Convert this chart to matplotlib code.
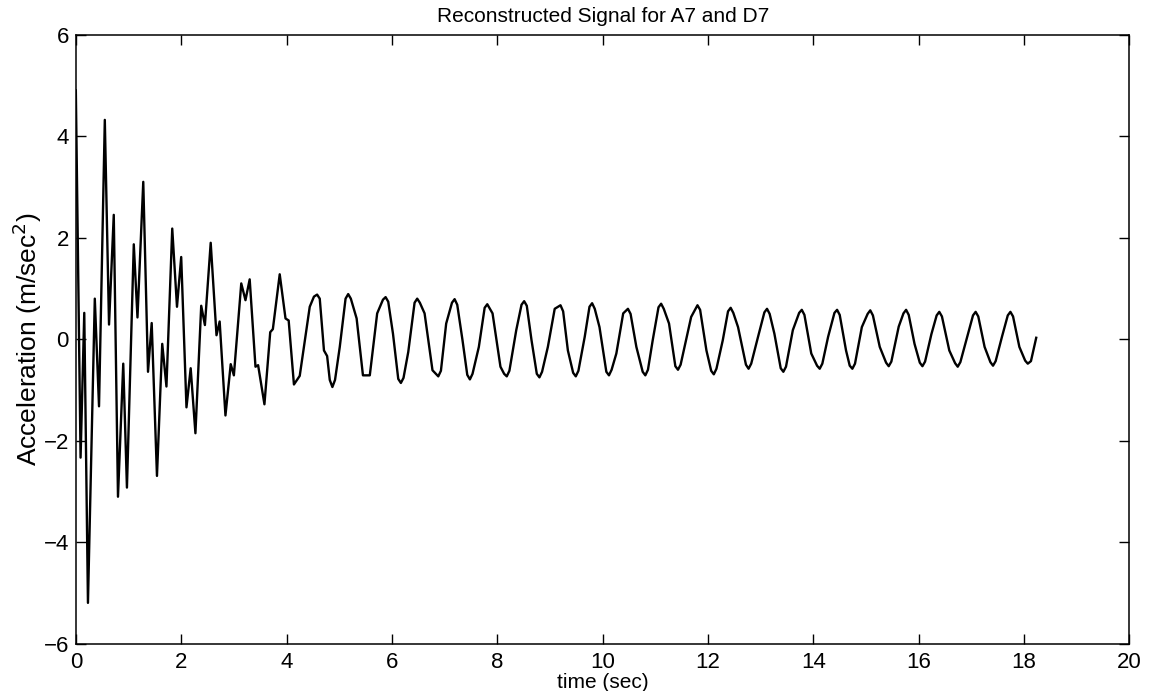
import matplotlib
matplotlib.use('Agg')
import matplotlib.pyplot as plt

# значения (время, ускорение)
# начало записи: быстрые затухающие колебания
early_time = [0.00, 0.09, 0.16, 0.23, 0.36, 0.44, 0.55, 0.63, 0.72, 0.80,
              0.90, 0.97, 1.10, 1.17, 1.28, 1.37, 1.44, 1.54, 1.64, 1.72,
              1.83, 1.92, 2.00, 2.10, 2.18, 2.27, 2.38, 2.45, 2.56, 2.67,
              2.73, 2.84, 2.94, 3.00, 3.14, 3.22, 3.30, 3.41, 3.46, 3.58,
              3.69, 3.74, 3.87, 3.98, 4.04, 4.14, 4.25]
early_accel = [4.90, -2.33, 0.52, -5.19, 0.80, -1.32, 4.32, 0.29, 2.45, -3.10,
               -0.48, -2.92, 1.87, 0.43, 3.10, -0.64, 0.32, -2.69, -0.09, -0.93,
               2.18, 0.64, 1.62, -1.34, -0.57, -1.85, 0.66, 0.28, 1.90, 0.08,
               0.35, -1.50, -0.49, -0.71, 1.10, 0.77, 1.18, -0.54, -0.51, -1.28,
               0.14, 0.20, 1.28, 0.41, 0.37, -0.89, -0.72]

# 4.4 - 11.5 с
mid_time = [4.44, 4.52, 4.58, 4.63, 4.71, 4.77, 4.82, 4.87, 4.92, 5.01,
            5.12, 5.17, 5.22, 5.33, 5.45, 5.58, 5.72, 5.83, 5.88, 5.93,
            6.02, 6.12, 6.17, 6.22, 6.31, 6.43, 6.48, 6.53, 6.62, 6.77,
            6.88, 6.93, 7.03, 7.14, 7.19, 7.24, 7.34, 7.43, 7.48, 7.53,
            7.65, 7.76, 7.81, 7.91, 8.06, 8.13, 8.18, 8.23, 8.36, 8.46,
            8.51, 8.56, 8.65, 8.75, 8.80, 8.85, 8.96, 9.09, 9.20, 9.25,
            9.34, 9.44, 9.49, 9.54, 9.66, 9.75, 9.80, 9.85, 9.94, 10.07,
            10.12, 10.17, 10.26, 10.39, 10.48, 10.53, 10.64, 10.76, 10.81, 10.86,
            10.95, 11.06, 11.11, 11.16, 11.26, 11.38, 11.43, 11.48]
mid_accel = [0.64, 0.84, 0.88, 0.80, -0.22, -0.33, -0.80, -0.94, -0.80, -0.15,
             0.80, 0.89, 0.80, 0.41, -0.71, -0.71, 0.51, 0.78, 0.83, 0.74,
             0.11, -0.78, -0.86, -0.76, -0.25, 0.72, 0.80, 0.72, 0.51, -0.61,
             -0.73, -0.62, 0.31, 0.72, 0.79, 0.68, -0.02, -0.70, -0.79, -0.68,
             -0.15, 0.62, 0.69, 0.51, -0.54, -0.68, -0.73, -0.62, 0.18, 0.68,
             0.75, 0.66, -0.02, -0.68, -0.75, -0.64, -0.15, 0.60, 0.67, 0.55,
             -0.22, -0.66, -0.73, -0.62, 0.05, 0.64, 0.71, 0.60, 0.24, -0.64,
             -0.71, -0.60, -0.28, 0.51, 0.60, 0.50, -0.15, -0.64, -0.71, -0.60,
             -0.02, 0.63, 0.70, 0.60, 0.31, -0.53, -0.60, -0.50]

# 11.5 с - конец записи
late_time = [11.68, 11.80, 11.85, 11.97, 12.06, 12.11, 12.16, 12.28, 12.38, 12.43,
             12.48, 12.57, 12.72, 12.77, 12.82, 12.95, 13.07, 13.12, 13.17, 13.26,
             13.38, 13.43, 13.48, 13.61, 13.73, 13.78, 13.83, 13.96, 14.07, 14.12,
             14.17, 14.28, 14.40, 14.45, 14.50, 14.62, 14.69, 14.74, 14.79, 14.92,
             15.03, 15.08, 15.13, 15.26, 15.38, 15.43, 15.48, 15.62, 15.71, 15.76,
             15.81, 15.92, 16.02, 16.07, 16.12, 16.24, 16.34, 16.39, 16.44, 16.58,
             16.69, 16.74, 16.79, 16.92, 17.03, 17.08, 17.13, 17.25, 17.36, 17.41,
             17.46, 17.58, 17.69, 17.74, 17.79, 17.91, 18.02, 18.07, 18.13, 18.23]
late_accel = [0.44, 0.67, 0.58, -0.22, -0.62, -0.69, -0.58, -0.02, 0.55, 0.62,
              0.52, 0.24, -0.50, -0.58, -0.48, 0.05, 0.53, 0.60, 0.50, 0.11,
              -0.57, -0.64, -0.54, 0.18, 0.52, 0.58, 0.48, -0.28, -0.52, -0.58,
              -0.48, 0.05, 0.52, 0.58, 0.48, -0.22, -0.52, -0.58, -0.48, 0.24,
              0.50, 0.57, 0.47, -0.15, -0.46, -0.53, -0.44, 0.25, 0.51, 0.58,
              0.48, -0.09, -0.46, -0.53, -0.44, 0.10, 0.47, 0.54, 0.45, -0.22,
              -0.47, -0.54, -0.45, 0.05, 0.47, 0.54, 0.45, -0.15, -0.45, -0.52,
              -0.43, 0.05, 0.47, 0.54, 0.45, -0.15, -0.42, -0.48, -0.43, 0.03]

x_ticks = [0, 2, 4, 6, 8, 10, 12, 14, 16, 18, 20]
y_ticks = [-6, -4, -2, 0, 2, 4, 6]

time_sec = early_time + mid_time + late_time
accel = early_accel + mid_accel + late_accel

plt.rcParams['font.family'] = ['Liberation Sans', 'DejaVu Sans']

fig = plt.figure(figsize=(11.49, 6.91), dpi=100)
ax = fig.add_axes([0.066, 0.068, 0.917, 0.882])

ax.plot(time_sec, accel, color='black', linewidth=1.7)

ax.set_xlim(0, 20)
ax.set_ylim(-6, 6)
ax.set_xticks(x_ticks)
ax.set_yticks(y_ticks)
ax.tick_params(direction='in', length=7, width=1, top=True, right=True,
               labelsize=16)
ax.tick_params(axis='x', pad=6)
ax.tick_params(axis='y', pad=5)
for s in ax.spines.values():
    s.set_linewidth(1.1)

ax.set_title('Reconstructed Signal for A7 and D7', fontsize=15, pad=9)
ax.set_xlabel('time (sec)', fontsize=15, labelpad=0)
ax.set_ylabel('Acceleration (m/sec$^2$)', fontsize=19, labelpad=0)

plt.savefig('out.png', dpi=100)
